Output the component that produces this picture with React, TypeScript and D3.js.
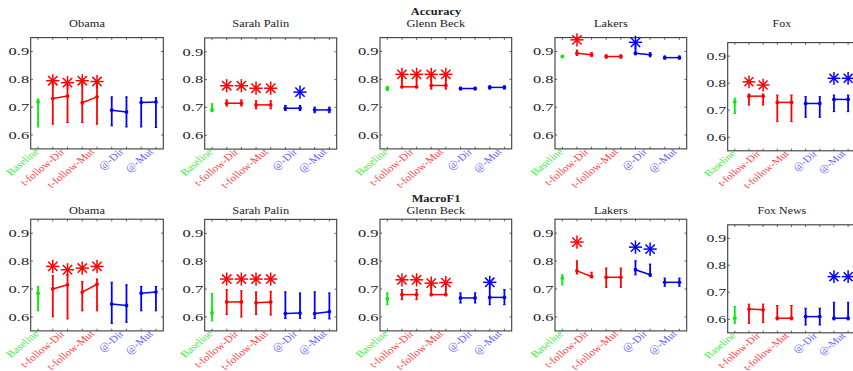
import React from "react";
import * as d3 from "d3";

// ---------- shared categories / ticks ----------
const POSITIONS = [1, 2, 3, 4, 5, 6, 7, 8, 9];
const CATEGORY_LABELS = ["Baseline", "t-follow-Dir", "t-follow-Mut", "@-Dir", "@-Mut"];
const LABEL_TICKS = [1, 3, 5, 7, 9];
const Y_TICKS = [0.6, 0.7, 0.8, 0.9];
const PAIRS = [[2, 3], [4, 5], [6, 7], [8, 9]];
const ROW_TITLES = ["Accuracy", "MacroF1"];
const TOP_TITLES = ["Obama", "Sarah Palin", "Glenn Beck", "Lakers", "Fox"];
const BOTTOM_TITLES = ["Obama", "Sarah Palin", "Glenn Beck", "Lakers", "Fox News"];

// ---------- Accuracy ----------
const accObamaMean = [0.719, 0.731, 0.740, 0.716, 0.737, 0.689, 0.683, 0.717, 0.719];
const accObamaLo = [0.629, 0.639, 0.645, 0.645, 0.639, 0.633, 0.629, 0.629, 0.627];
const accObamaHi = [0.729, 0.784, 0.779, 0.786, 0.789, 0.737, 0.737, 0.734, 0.734];
const accObamaStars = [[2, 0.795], [3, 0.788], [4, 0.795], [5, 0.792]];

const accPalinMean = [0.691, 0.715, 0.715, 0.709, 0.709, 0.697, 0.697, 0.691, 0.691];
const accPalinLo = [0.685, 0.705, 0.705, 0.695, 0.695, 0.689, 0.689, 0.681, 0.681];
const accPalinHi = [0.713, 0.727, 0.727, 0.724, 0.724, 0.707, 0.707, 0.701, 0.701];
const accPalinStars = [[2, 0.778], [3, 0.778], [4, 0.769], [5, 0.769], [7, 0.755]];

const accBeckMean = [0.767, 0.773, 0.773, 0.778, 0.778, 0.767, 0.767, 0.771, 0.771];
const accBeckLo = [0.760, 0.770, 0.770, 0.765, 0.765, 0.762, 0.762, 0.765, 0.765];
const accBeckHi = [0.775, 0.815, 0.815, 0.815, 0.815, 0.771, 0.771, 0.777, 0.777];
const accBeckStars = [[2, 0.818], [3, 0.818], [4, 0.818], [5, 0.818]];

const accLakersMean = [0.882, 0.894, 0.888, 0.882, 0.882, 0.894, 0.888, 0.878, 0.878];
const accLakersLo = [0.879, 0.886, 0.882, 0.876, 0.876, 0.888, 0.881, 0.873, 0.873];
const accLakersHi = [0.885, 0.905, 0.896, 0.888, 0.888, 0.928, 0.896, 0.884, 0.884];
const accLakersStars = [[2, 0.942], [6, 0.933]];

const accFoxMean = [0.731, 0.752, 0.752, 0.729, 0.729, 0.725, 0.725, 0.740, 0.740];
const accFoxLo = [0.688, 0.719, 0.719, 0.658, 0.658, 0.674, 0.674, 0.695, 0.695];
const accFoxHi = [0.744, 0.760, 0.760, 0.756, 0.756, 0.750, 0.750, 0.756, 0.756];
const accFoxStars = [[2, 0.805], [3, 0.793], [8, 0.818], [9, 0.818]];

// ---------- MacroF1 ----------
const mfObamaMean = [0.685, 0.700, 0.715, 0.689, 0.717, 0.646, 0.641, 0.685, 0.689];
const mfObamaLo = [0.622, 0.601, 0.593, 0.622, 0.622, 0.577, 0.581, 0.622, 0.622];
const mfObamaHi = [0.709, 0.748, 0.751, 0.727, 0.736, 0.724, 0.715, 0.709, 0.709];
const mfObamaStars = [[2, 0.781], [3, 0.769], [4, 0.775], [5, 0.781]];

const mfPalinMean = [0.615, 0.654, 0.654, 0.651, 0.654, 0.612, 0.614, 0.612, 0.619];
const mfPalinLo = [0.586, 0.609, 0.600, 0.609, 0.607, 0.595, 0.595, 0.595, 0.593];
const mfPalinHi = [0.684, 0.698, 0.694, 0.690, 0.692, 0.690, 0.686, 0.690, 0.686];
const mfPalinStars = [[2, 0.736], [3, 0.736], [4, 0.736], [5, 0.736]];

const mfBeckMean = [0.665, 0.680, 0.680, 0.680, 0.680, 0.668, 0.668, 0.670, 0.670];
const mfBeckLo = [0.644, 0.662, 0.662, 0.676, 0.676, 0.650, 0.650, 0.644, 0.644];
const mfBeckHi = [0.686, 0.698, 0.698, 0.720, 0.720, 0.686, 0.686, 0.718, 0.698];
const mfBeckStars = [[2, 0.733], [3, 0.733], [4, 0.721], [5, 0.723], [8, 0.724]];

const mfLakersMean = [0.739, 0.765, 0.745, 0.742, 0.742, 0.769, 0.751, 0.724, 0.724];
const mfLakersLo = [0.715, 0.754, 0.740, 0.706, 0.706, 0.751, 0.745, 0.710, 0.710];
const mfLakersHi = [0.751, 0.801, 0.760, 0.775, 0.775, 0.801, 0.789, 0.739, 0.739];
const mfLakersStars = [[2, 0.868], [6, 0.850], [7, 0.843]];

const mfFoxMean = [0.604, 0.638, 0.635, 0.604, 0.604, 0.610, 0.610, 0.604, 0.604];
const mfFoxLo = [0.585, 0.585, 0.588, 0.598, 0.598, 0.579, 0.579, 0.598, 0.598];
const mfFoxHi = [0.647, 0.656, 0.656, 0.651, 0.651, 0.641, 0.641, 0.663, 0.663];
const mfFoxStars = [[8, 0.758], [9, 0.758]];

// ---------- layout & style ----------
const W = 853;
const H = 371;
const FONT = "'Liberation Serif', 'Times New Roman', serif";
const COLORS = ["#00ee00", "#ff0000", "#ff0000", "#ff0000", "#ff0000", "#0000ff", "#0000ff", "#0000ff", "#0000ff"];
const LABEL_COLORS = ["#3cf03c", "#ff4646", "#ff4646", "#6464ff", "#6464ff"];

type PanelGeom = { x: number; y: number; w: number; h: number; s: number };

const TOP_GEOM: PanelGeom[] = [
  { x: 30.7, y: 37.6, w: 132.6, h: 111.3, s: 1 },
  { x: 204.7, y: 37.9, w: 132.0, h: 111.2, s: 1 },
  { x: 380.0, y: 37.6, w: 131.7, h: 111.3, s: 1 },
  { x: 555.0, y: 37.6, w: 131.7, h: 111.3, s: 1 },
  { x: 727.7, y: 42.6, w: 127.5, h: 108.2, s: 0.96 },
];
const BOTTOM_GEOM: PanelGeom[] = [
  { x: 30.7, y: 219.2, w: 132.6, h: 111.7, s: 1 },
  { x: 204.7, y: 219.4, w: 132.0, h: 111.5, s: 1 },
  { x: 380.0, y: 219.2, w: 131.7, h: 111.7, s: 1 },
  { x: 555.0, y: 219.2, w: 131.7, h: 111.7, s: 1 },
  { x: 727.7, y: 224.8, w: 127.5, h: 108.0, s: 0.96 },
];

type PanelData = { mean: number[]; lo: number[]; hi: number[]; stars: number[][] };

const TOP_DATA: PanelData[] = [
  { mean: accObamaMean, lo: accObamaLo, hi: accObamaHi, stars: accObamaStars },
  { mean: accPalinMean, lo: accPalinLo, hi: accPalinHi, stars: accPalinStars },
  { mean: accBeckMean, lo: accBeckLo, hi: accBeckHi, stars: accBeckStars },
  { mean: accLakersMean, lo: accLakersLo, hi: accLakersHi, stars: accLakersStars },
  { mean: accFoxMean, lo: accFoxLo, hi: accFoxHi, stars: accFoxStars },
];
const BOTTOM_DATA: PanelData[] = [
  { mean: mfObamaMean, lo: mfObamaLo, hi: mfObamaHi, stars: mfObamaStars },
  { mean: mfPalinMean, lo: mfPalinLo, hi: mfPalinHi, stars: mfPalinStars },
  { mean: mfBeckMean, lo: mfBeckLo, hi: mfBeckHi, stars: mfBeckStars },
  { mean: mfLakersMean, lo: mfLakersLo, hi: mfLakersHi, stars: mfLakersStars },
  { mean: mfFoxMean, lo: mfFoxLo, hi: mfFoxHi, stars: mfFoxStars },
];

function Star({ cx, cy, r, color }: { cx: number; cy: number; r: number; color: string }) {
  const angles = [0, 45, 90, 135];
  return (
    <g>
      {angles.map((a) => {
        const rad = (a * Math.PI) / 180;
        const dx = Math.cos(rad) * r;
        const dy = Math.sin(rad) * r;
        return (
          <line key={a} x1={cx - dx} y1={cy - dy} x2={cx + dx} y2={cy + dy} stroke={color} strokeWidth={1.5} />
        );
      })}
    </g>
  );
}

function Panel({ g, d, title, titleY }: { g: PanelGeom; d: PanelData; title: string; titleY: number }) {
  const x = d3.scaleLinear().domain([0.5, 9.5]).range([g.x, g.x + g.w]);
  const y = d3.scaleLinear().domain([0.55, 0.95]).range([g.y + g.h, g.y]);
  const bottom = g.y + g.h;
  const tickLen = 2.2;
  const line = d3
    .line<number>()
    .x((p) => x(p))
    .y((p) => y(d.mean[p - 1]));
  const cap = 1.2;
  return (
    <g>
      {/* x category labels (drawn first, box covers overflow) */}
      {CATEGORY_LABELS.map((lab, i) => {
        const p = LABEL_TICKS[i];
        const ax = x(p) + (i === 0 ? 1.5 : -2);
        const ay = bottom + 3.5;
        return (
          <text
            key={lab}
            transform={`translate(${ax},${ay}) scale(${1.2 * g.s},${g.s}) rotate(-45)`}
            textAnchor="end"
            fontFamily={FONT}
            fontSize={9.8}
            fill={LABEL_COLORS[i]}
          >
            {lab}
          </text>
        );
      })}
      {/* axes box */}
      <rect x={g.x} y={g.y} width={g.w} height={g.h} fill="#fff" stroke="#3c3c3c" strokeWidth={1.1} />
      {/* ticks */}
      {POSITIONS.map((p) => (
        <g key={"xt" + p}>
          <line x1={x(p)} x2={x(p)} y1={bottom} y2={bottom - tickLen} stroke="#3c3c3c" strokeWidth={0.8} />
          <line x1={x(p)} x2={x(p)} y1={g.y} y2={g.y + tickLen} stroke="#3c3c3c" strokeWidth={0.8} />
        </g>
      ))}
      {Y_TICKS.map((t) => (
        <g key={"yt" + t}>
          <line x1={g.x} x2={g.x + tickLen} y1={y(t)} y2={y(t)} stroke="#3c3c3c" strokeWidth={0.8} />
          <line x1={g.x + g.w} x2={g.x + g.w - tickLen} y1={y(t)} y2={y(t)} stroke="#3c3c3c" strokeWidth={0.8} />
          <text
            transform={`translate(${g.x - 1.6},${y(t)}) scale(${1.55 * g.s},${g.s})`}
            textAnchor="end"
            dy="0.35em"
            fontFamily={FONT}
            fontSize={10.6}
            fill="#222"
          >
            {t.toFixed(1)}
          </text>
        </g>
      ))}
      {/* title */}
      <text
        transform={`translate(${g.x + g.w / 2 - 10 * g.s},${titleY}) scale(${1.13 * g.s},${g.s})`}
        textAnchor="middle"
        fontFamily={FONT}
        fontSize={11}
        fill="#222"
      >
        {title}
      </text>
      {/* pair connectors */}
      {PAIRS.map((pr) => (
        <path key={"pl" + pr[0]} d={line(pr) || ""} fill="none" stroke={COLORS[pr[0] - 1]} strokeWidth={1.5} />
      ))}
      {/* error bars */}
      {POSITIONS.map((p) => {
        const c = COLORS[p - 1];
        const xp = x(p);
        return (
          <g key={"eb" + p}>
            <line x1={xp} x2={xp} y1={y(d.lo[p - 1])} y2={y(d.hi[p - 1])} stroke={c} strokeWidth={1.8} />
            <line x1={xp - cap} x2={xp + cap} y1={y(d.lo[p - 1])} y2={y(d.lo[p - 1])} stroke={c} strokeWidth={1.1} />
            <line x1={xp - cap} x2={xp + cap} y1={y(d.hi[p - 1])} y2={y(d.hi[p - 1])} stroke={c} strokeWidth={1.1} />
            <circle cx={xp} cy={y(d.mean[p - 1])} r={1.9} fill={c} />
          </g>
        );
      })}
      {/* significance stars */}
      {d.stars.map(([p, v]) => (
        <Star key={"st" + p} cx={x(p)} cy={y(v)} r={6.6 * g.s} color={COLORS[p - 1]} />
      ))}
    </g>
  );
}

export default function App() {
  return (
    <div style={{ position: "fixed", left: 0, top: 0, width: W, height: H, background: "#fff" }}>
      <svg width={W} height={H} viewBox={`0 0 ${W} ${H}`} style={{ display: "block" }}>
        <rect x={0} y={0} width={W} height={H} fill="#fff" />
        {TOP_GEOM.map((g, i) => (
          <Panel key={"t" + i} g={g} d={TOP_DATA[i]} title={TOP_TITLES[i]} titleY={26.7} />
        ))}
        {BOTTOM_GEOM.map((g, i) => (
          <Panel key={"b" + i} g={g} d={BOTTOM_DATA[i]} title={BOTTOM_TITLES[i]} titleY={214.3} />
        ))}
        <text
          transform={`translate(436,14.8) scale(1.13,1)`}
          textAnchor="middle"
          fontFamily={FONT}
          fontSize={11}
          fontWeight="bold"
          fill="#222"
        >
          {ROW_TITLES[0]}
        </text>
        <text
          transform={`translate(436,201.7) scale(1.13,1)`}
          textAnchor="middle"
          fontFamily={FONT}
          fontSize={11}
          fontWeight="bold"
          fill="#222"
        >
          {ROW_TITLES[1]}
        </text>
      </svg>
    </div>
  );
}
